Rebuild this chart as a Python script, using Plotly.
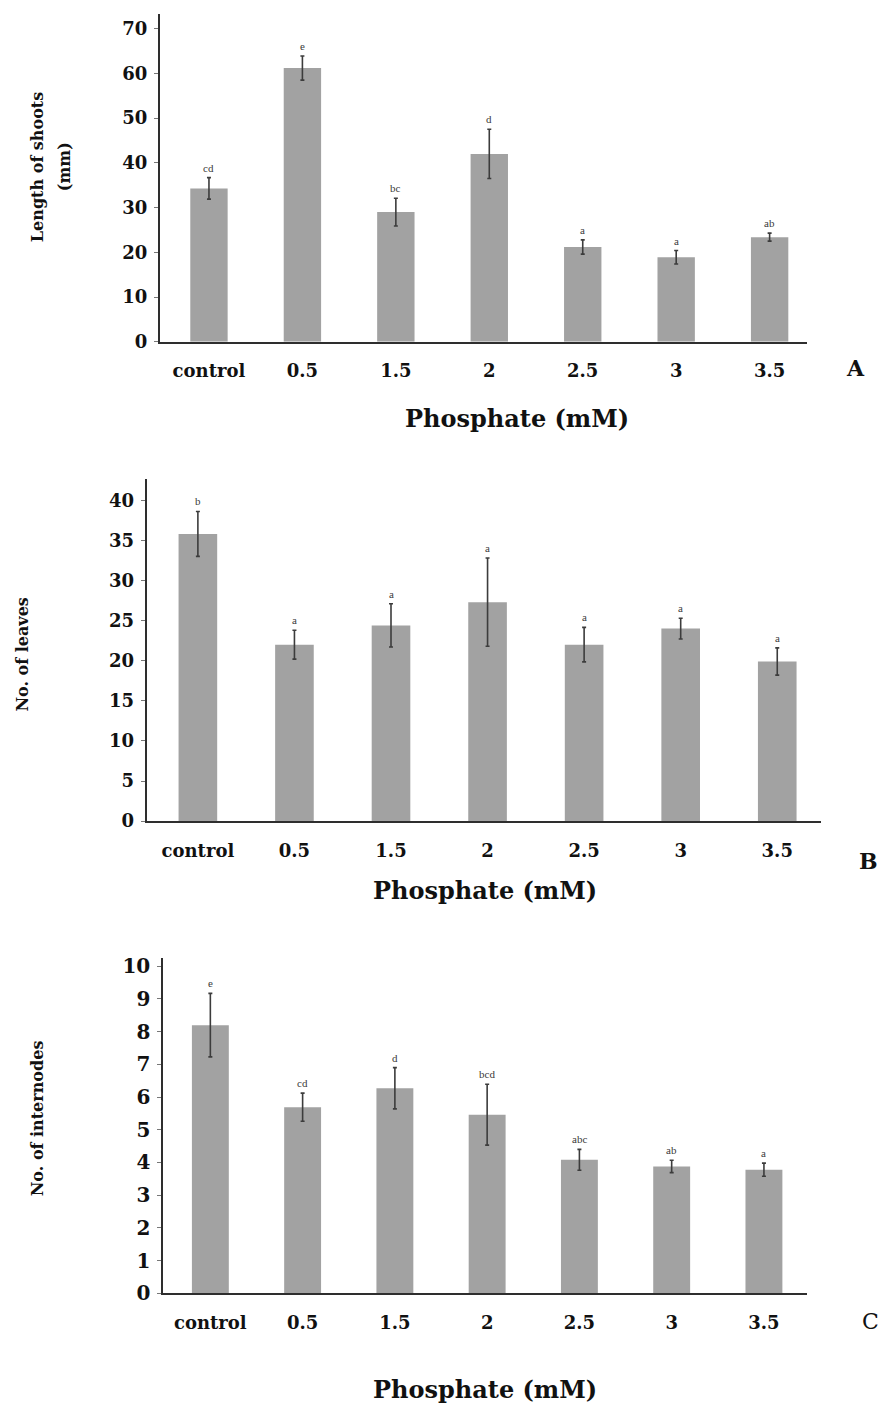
import plotly.graph_objects as go

W, H = 885, 1416

categories = ["control", "0.5", "1.5", "2", "2.5", "3", "3.5"]

# Panel A: shoot length (mm)
shoot_length = [34.3, 61.2, 29.0, 42.0, 21.2, 18.9, 23.4]
shoot_length_err = [2.4, 2.7, 3.1, 5.5, 1.6, 1.5, 0.9]
shoot_length_groups = ["cd", "e", "bc", "d", "a", "a", "ab"]
shoot_ticks = [0, 10, 20, 30, 40, 50, 60, 70]

# Panel B: number of leaves
leaves = [35.8, 22.0, 24.4, 27.3, 22.0, 24.0, 19.9]
leaves_err = [2.8, 1.8, 2.7, 5.5, 2.15, 1.3, 1.7]
leaves_groups = ["b", "a", "a", "a", "a", "a", "a"]
leaves_ticks = [0, 5, 10, 15, 20, 25, 30, 35, 40]

# Panel C: number of internodes
internodes = [8.2, 5.69, 6.27, 5.46, 4.08, 3.88, 3.78]
internodes_err = [0.97, 0.43, 0.63, 0.93, 0.32, 0.19, 0.20]
internodes_groups = ["e", "cd", "d", "bcd", "abc", "ab", "a"]
internodes_ticks = [0, 1, 2, 3, 4, 5, 6, 7, 8, 9, 10]

x_title = "Phosphate (mM)"

SERIF = "DejaVu Serif"
BAR = "#a2a2a2"
AXIS = "#2e2e2e"
ERR = "#3c3c3c"


def fx(px):
    return px / W


def fy(py):
    return 1 - py / H


panels = [
    dict(values=shoot_length, err=shoot_length_err, groups=shoot_length_groups,
         ticks=shoot_ticks, ymax=73.3, xrange=[-0.524, 6.40],
         box=(160, 807, 10, 341.7), tickfont=18,
         letter="A", letter_pos=(855, 368), letter_bold=True,
         title_pos=(517, 419)),
    dict(values=leaves, err=leaves_err, groups=leaves_groups,
         ticks=leaves_ticks, ymax=42.7, xrange=[-0.53, 6.45],
         box=(146.7, 820.7, 480, 826.5), tickfont=18,
         letter="B", letter_pos=(868, 867), letter_bold=True,
         title_pos=(485, 897)),
    dict(values=internodes, err=internodes_err, groups=internodes_groups,
         ticks=internodes_ticks, ymax=10.25, xrange=[-0.51, 6.47],
         box=(163.3, 807.3, 965, 1304), tickfont=20,
         letter="C", letter_pos=(870, 1333), letter_bold=False,
         title_pos=(485, 1401)),
]

fig = go.Figure()
annotations = []
layout_axes = {}

for i, p in enumerate(panels, start=1):
    xa = "x" if i == 1 else f"x{i}"
    ya = "y" if i == 1 else f"y{i}"
    fig.add_trace(go.Bar(
        x=categories, y=p["values"], xaxis=xa, yaxis=ya,
        width=0.4, marker=dict(color=BAR, line=dict(width=0)),
        error_y=dict(type="data", array=p["err"], visible=True,
                     color=ERR, thickness=1.6, width=2),
        showlegend=False, hoverinfo="x+y",
    ))
    # significance letters above each error bar (category index as x)
    for k, (v, e, g) in enumerate(zip(p["values"], p["err"], p["groups"])):
        annotations.append(dict(
            x=k, y=v + e, xref=xa, yref=ya, text=g, showarrow=False,
            yshift=10, font=dict(family="Liberation Serif", size=11, color="#3a3a3a"),
        ))
    x0, x1, y0, y1 = p["box"]
    layout_axes["xaxis" if i == 1 else f"xaxis{i}"] = dict(
        domain=[fx(x0), fx(x1)], anchor=ya, type="category",
        range=p["xrange"], showline=True, linecolor=AXIS, linewidth=2,
        ticks="", showgrid=False, zeroline=False, ticklabelstandoff=12,
        tickfont=dict(family=SERIF, size=18, color="#111", weight="bold"),
    )
    layout_axes["yaxis" if i == 1 else f"yaxis{i}"] = dict(
        domain=[fy(y1), fy(y0)], anchor=xa, range=[0, p["ymax"]],
        tickvals=p["ticks"], showline=True, linecolor=AXIS, linewidth=2,
        ticks="outside", ticklen=4, tickcolor="#777", tickwidth=1,
        showgrid=False, zeroline=False, ticklabelstandoff=3,
        tickfont=dict(family=SERIF, size=p["tickfont"], color="#111", weight="bold"),
    )
    # x-axis title
    tx, ty = p["title_pos"]
    annotations.append(dict(
        x=fx(tx), y=fy(ty), xref="paper", yref="paper", text=x_title,
        showarrow=False, xanchor="center", yanchor="middle",
        font=dict(family=SERIF, size=24, color="#111", weight="bold"),
    ))
    # panel letter
    lx, ly = p["letter_pos"]
    annotations.append(dict(
        x=fx(lx), y=fy(ly), xref="paper", yref="paper", text=p["letter"],
        showarrow=False, xanchor="center", yanchor="middle",
        font=dict(family=SERIF, size=22, color="#111",
                  weight="bold" if p["letter_bold"] else "normal"),
    ))

# y-axis titles
y_titles = [
    ("Length of shoots", 37, 165),
    ("(mm)", 64, 165),
    ("No. of leaves", 23, 658),
    ("No. of internodes", 37, 1127),
]
for text, tx, ty in y_titles:
    annotations.append(dict(
        x=fx(tx), y=fy(ty), xref="paper", yref="paper", text=text,
        showarrow=False, textangle=-90, xanchor="center", yanchor="middle",
        font=dict(family=SERIF, size=16, color="#111", weight="bold"),
    ))

fig.update_layout(
    width=W, height=H, margin=dict(l=0, r=0, t=0, b=0),
    paper_bgcolor="white", plot_bgcolor="white",
    annotations=annotations, bargap=0.6, **layout_axes,
)

fig.write_html("out.html")
